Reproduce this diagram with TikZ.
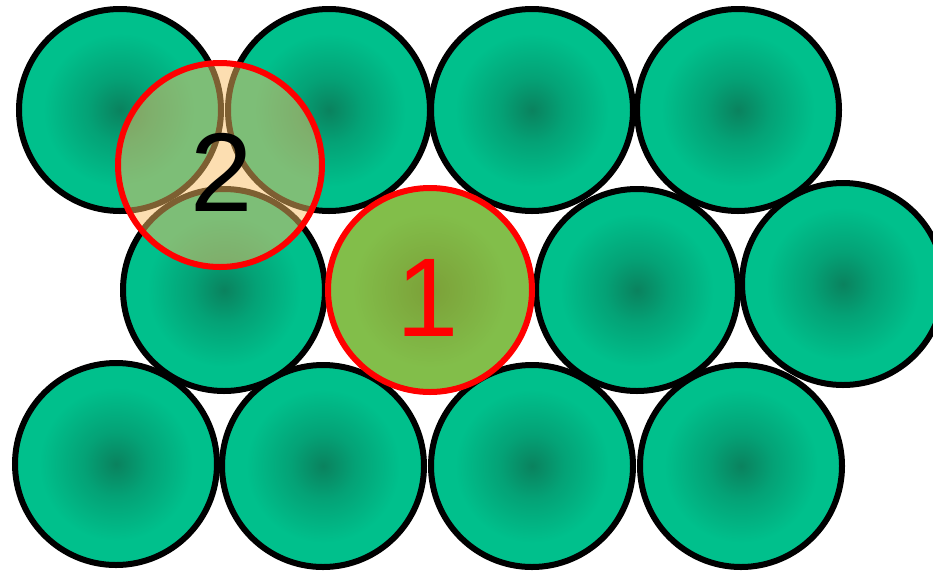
\documentclass[tikz,border=0pt]{standalone}
\usepackage{fontspec}
\setmainfont{Liberation Sans}
\definecolor{tdark}{RGB}{10,130,94}
\definecolor{tmid}{RGB}{4,162,118}
\definecolor{tbright}{RGB}{0,192,140}
\definecolor{odark}{RGB}{124,160,56}
\definecolor{obright}{RGB}{130,190,74}
\definecolor{tint}{RGB}{250,190,100}
\pgfdeclareradialshading{tealball}{\pgfpoint{0bp}{0bp}}{color(0bp)=(tdark); color(8bp)=(tmid); color(19bp)=(tbright); color(50bp)=(tbright)}
\pgfdeclareradialshading{oliveball}{\pgfpoint{0bp}{0bp}}{color(0bp)=(odark); color(19bp)=(obright); color(50bp)=(obright)}
\tikzset{
  ball/.style={circle, draw=black, line width=6pt, minimum size=202pt, inner sep=0pt, shading=tealball},
  hot/.style={circle, draw=red, line width=6pt, minimum size=204pt, inner sep=0pt, shading=oliveball},
  lens/.style={circle, draw=red, line width=6pt, minimum size=204pt, inner sep=0pt, fill=tint, fill opacity=0.5, draw opacity=1, text opacity=1},
  digit/.style={inner sep=0pt, font=\fontsize{112}{112}\selectfont}
}
\begin{document}
\begin{tikzpicture}[x=1pt,y=-1pt]
\useasboundingbox (0,0) rectangle (933,571);
% row 1
\node[ball] (a1) at (120,110) {};
\node[ball] (a2) at (329,110) {};
\node[ball] (a3) at (532,110) {};
\node[ball] (a4) at (738,110) {};
% row 3
\node[ball] (c1) at (116,464) {};
\node[ball] (c2) at (323,466) {};
\node[ball] (c3) at (532,466) {};
\node[ball] (c4) at (741,466) {};
% row 2
\node[ball] (b1) at (224,290) {};
\node[ball] (b3) at (637,290) {};
\node[ball] (b4) at (843,284) {};
\node[hot] (one) at (430,290) {};
\node[digit, text=red] (onelabel) at (428,298) {1};
% overlay
\node[lens] (two) at (220,165) {};
\node[digit, text=black] (twolabel) at (222,172) {2};
\end{tikzpicture}
\end{document}
